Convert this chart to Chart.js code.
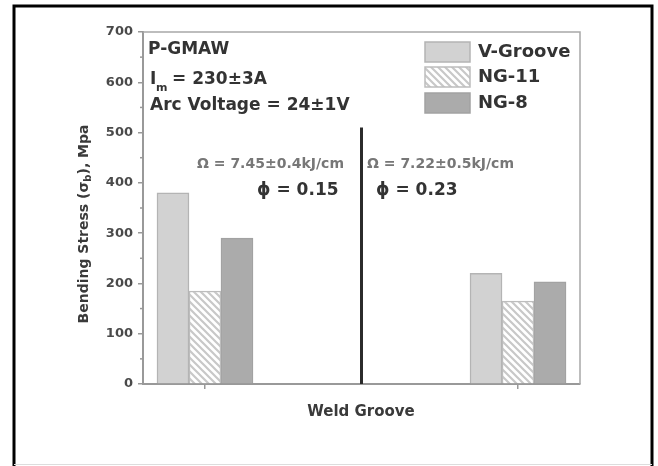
<!DOCTYPE html>
<html>
  <head>
    <meta charset="UTF-8" />
    <title>Bending Stress</title>
    <script src="https://cdn.jsdelivr.net/npm/chart.js"></script>
    <style>
      body { margin: 0; background: #fff; }
      #wrap { width: 658px; height: 466px; }
    </style>
  </head>
  <body>
    <div id="wrap">
      <canvas id="stressChart" width="658" height="466"></canvas>
    </div>

    <script>
      // data
      const groupPos = [1, 2];               // two weld groove groups
      const seriesNames = ['V-Groove', 'NG-11', 'NG-8'];
      const vGroove = [380, 220];
      const ng11 = [185, 165];
      const ng8 = [290, 203];
      const dividerX = 1.5;
      const dividerTop = 510;
      const yMax = 700;
      const yStep = 100;

      const FONT = '"DejaVu Sans", sans-serif';

      // hatch pattern for NG-11
      function makeHatch() {
        const c = document.createElement('canvas');
        c.width = 7; c.height = 7;
        const g = c.getContext('2d');
        g.fillStyle = '#ffffff';
        g.fillRect(0, 0, 7, 7);
        g.strokeStyle = '#c8c8c8';
        g.lineWidth = 2.2;
        g.beginPath();
        g.moveTo(-1, -1); g.lineTo(8, 8);
        g.moveTo(-8, -1); g.lineTo(1, 8);
        g.moveTo(6, -1); g.lineTo(15, 8);
        g.stroke();
        return g.createPattern(c, 'repeat');
      }
      const hatch = makeHatch();

      const fills = ['#d2d2d2', hatch, '#ababab'];
      const borders = ['#b4b4b4', '#bdbdbd', '#a2a2a2'];

      function pts(vals) {
        return groupPos.map((x, i) => ({ x: x, y: vals[i] }));
      }

      const frame = {
        id: 'frame',
        beforeDraw(chart) {
          const c = chart.ctx;
          c.save();
          c.fillStyle = '#fff';
          c.fillRect(0, 0, chart.width, chart.height);
          c.restore();
        },
        afterDraw(chart) {
          const c = chart.ctx;
          const a = chart.chartArea;
          const y = chart.scales.y;
          c.save();
          // outer black frame
          c.strokeStyle = '#000';
          c.lineWidth = 3;
          c.beginPath();
          c.moveTo(14, 466); c.lineTo(14, 6); c.lineTo(652, 6); c.lineTo(652, 466);
          c.stroke();
          c.strokeStyle = '#ddd';
          c.lineWidth = 1;
          c.beginPath();
          c.moveTo(14, 464.5); c.lineTo(652, 464.5);
          c.stroke();

          // plot box top + right
          c.strokeStyle = '#a8a8a8';
          c.lineWidth = 1.5;
          c.beginPath();
          c.moveTo(a.left, a.top); c.lineTo(a.right, a.top); c.lineTo(a.right, a.bottom);
          c.stroke();

          // minor y ticks
          c.strokeStyle = '#999';
          c.lineWidth = 1.5;
          for (let v = yStep / 2; v < yMax; v += yStep) {
            const py = y.getPixelForValue(v);
            c.beginPath();
            c.moveTo(a.left - 3, py); c.lineTo(a.left, py);
            c.stroke();
          }

          // axis titles
          c.fillStyle = '#3a3a3a';
          c.textAlign = 'center';
          c.textBaseline = 'middle';
          c.font = 'bold 15px ' + FONT;
          c.fillText('Weld Groove', 361, 412);

          c.save();
          c.translate(84, 224);
          c.rotate(-Math.PI / 2);
          const p1 = 'Bending Stress (σ';
          const p2 = 'b';
          const p3 = '), Mpa';
          c.font = 'bold 14px ' + FONT;
          const w1 = c.measureText(p1).width;
          const w3 = c.measureText(p3).width;
          c.font = 'bold 10px ' + FONT;
          const w2 = c.measureText(p2).width;
          const x0 = -(w1 + w2 + w3) / 2;
          c.textAlign = 'left';
          c.font = 'bold 14px ' + FONT;
          c.fillText(p1, x0, 0);
          c.font = 'bold 10px ' + FONT;
          c.fillText(p2, x0 + w1, 4);
          c.font = 'bold 14px ' + FONT;
          c.fillText(p3, x0 + w1 + w2, 0);
          c.restore();

          // annotations top-left
          c.textAlign = 'left';
          c.fillStyle = '#333';
          c.font = 'bold 17px ' + FONT;
          c.fillText('P-GMAW', 148, 50);
          c.fillText('I', 150, 80);
          c.font = 'bold 11px ' + FONT;
          c.fillText('m', 156, 88);
          c.font = 'bold 17px ' + FONT;
          c.fillText('= 230±3A', 172, 80);
          c.fillText('Arc Voltage = 24±1V', 150, 106);

          // heat input / phi labels
          c.fillStyle = '#777';
          c.font = 'bold 14px ' + FONT;
          c.fillText('Ω = 7.45±0.4kJ/cm', 197, 164);
          c.fillText('Ω = 7.22±0.5kJ/cm', 367, 164);
          c.fillStyle = '#333';
          c.font = 'bold 17px ' + FONT;
          c.fillText('ϕ = 0.15', 257, 191);
          c.fillText('ϕ = 0.23', 376, 191);

          // legend
          const rows = [52, 77, 103];
          chart.data.datasets.slice(0, 3).forEach((ds, i) => {
            const cy = rows[i];
            c.fillStyle = ds.backgroundColor;
            c.fillRect(425, cy - 10, 45, 20);
            c.strokeStyle = ds.borderColor;
            c.lineWidth = 1.5;
            c.strokeRect(425, cy - 10, 45, 20);
            c.fillStyle = '#333';
            c.font = 'bold 18px ' + FONT;
            c.fillText(ds.label, 478, cy);
          });
          c.restore();
        }
      };

      const datasets = seriesNames.map((name, i) => ({
        type: 'bar',
        label: name,
        data: pts([vGroove, ng11, ng8][i]),
        backgroundColor: fills[i],
        borderColor: borders[i],
        borderWidth: 1.5,
        barThickness: 32
      }));
      datasets.push({
        type: 'line',
        label: 'divider',
        data: [{ x: dividerX, y: 0 }, { x: dividerX, y: dividerTop }],
        borderColor: '#2b2b2b',
        borderWidth: 3,
        pointRadius: 0,
        fill: false
      });

      new Chart(document.getElementById('stressChart'), {
        data: { datasets: datasets },
        plugins: [frame],
        options: {
          responsive: false,
          animation: false,
          layout: { padding: { left: 0, right: 78, top: 32, bottom: 0 } },
          plugins: { legend: { display: false }, tooltip: { enabled: false } },
          scales: {
            x: {
              type: 'linear',
              offset: false,
              min: 0.802,
              max: 2.198,
              afterFit: (s) => { s.height = 82; },
              ticks: {
                stepSize: 1,
                includeBounds: false,
                callback: () => ''
              },
              grid: { offset: false, drawOnChartArea: false, drawTicks: true, tickLength: 5, color: '#999', lineWidth: 1.5 },
              border: { color: '#999', width: 2 }
            },
            y: {
              min: 0,
              max: yMax,
              afterFit: (s) => { s.width = 143; },
              ticks: {
                stepSize: yStep,
                padding: 5,
                color: '#4a4a4a',
                font: { family: FONT, size: 13, weight: 'bold' }
              },
              grid: { drawOnChartArea: false, drawTicks: true, tickLength: 5, color: '#999', lineWidth: 1.5 },
              border: { color: '#999', width: 2 }
            }
          }
        }
      });
    </script>
  </body>
</html>
